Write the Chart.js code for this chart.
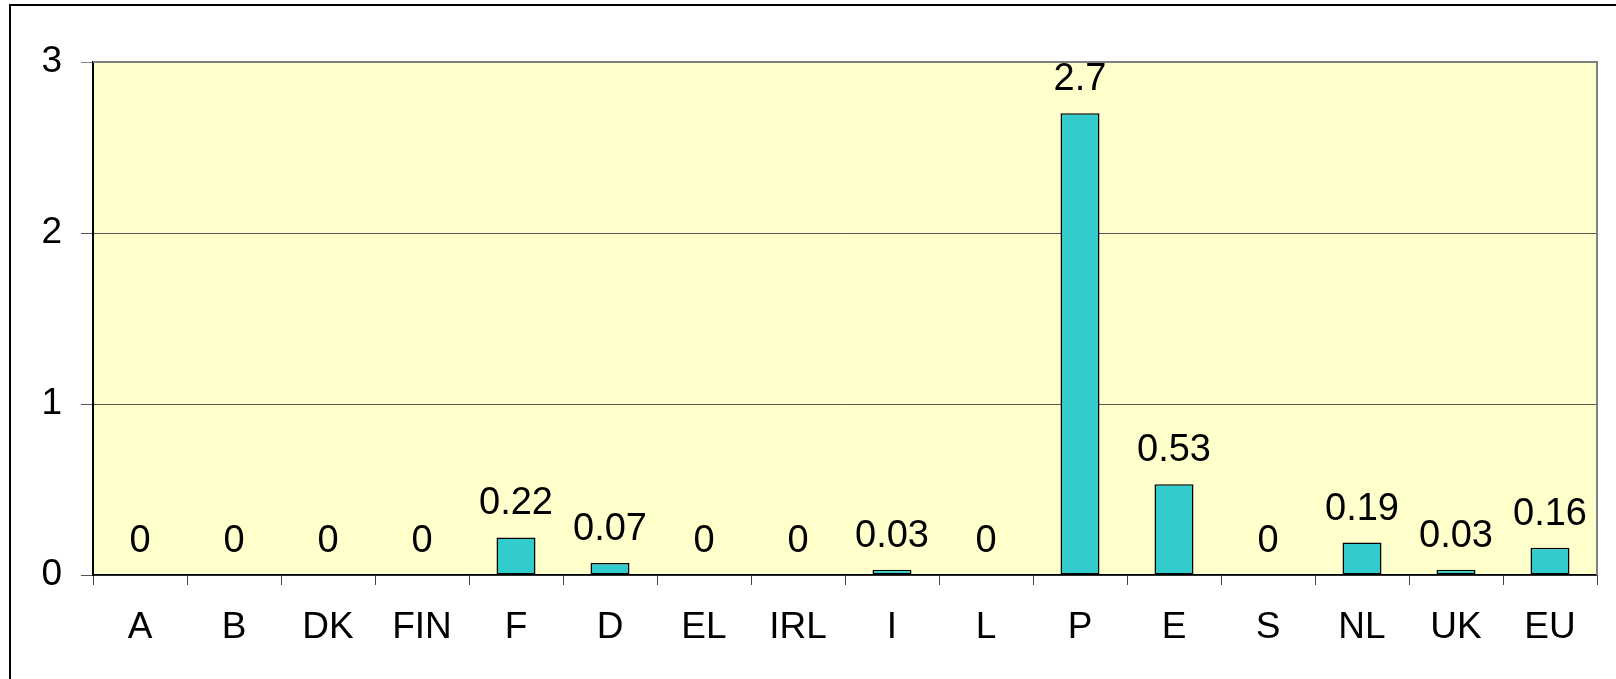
<!DOCTYPE html>
<html>
<head>
<meta charset="utf-8">
<script src="https://cdn.jsdelivr.net/npm/chart.js@4/dist/chart.umd.min.js"></script>
<style>
html,body{margin:0;padding:0;background:#fff;overflow:hidden;}
canvas{display:block;}
</style>
</head>
<body>
<canvas id="c" width="1616" height="679"></canvas>
<script>
const categories = ["A","B","DK","FIN","F","D","EL","IRL","I","L","P","E","S","NL","UK","EU"];
const values = [0,0,0,0,0.22,0.07,0,0,0.03,0,2.7,0.53,0,0.19,0.03,0.16];
const valueLabels = ["0","0","0","0","0.22","0.07","0","0","0.03","0","2.7","0.53","0","0.19","0.03","0.16"];
const yTicks = [0,1,2,3];

const FONT = "'Liberation Sans', Arial, sans-serif";

const framePlugin = {
  id: 'frame',
  beforeDraw(chart) {
    const ctx = chart.ctx, a = chart.chartArea;
    ctx.save();
    ctx.fillStyle = '#fff';
    ctx.fillRect(0, 0, chart.width, chart.height);
    ctx.fillStyle = '#FFFFCC';
    ctx.fillRect(a.left, a.top, a.right - a.left, a.bottom - a.top);
    ctx.strokeStyle = '#000';
    ctx.lineWidth = 2;
    ctx.beginPath();
    ctx.moveTo(10, chart.height + 2);
    ctx.lineTo(10, 5);
    ctx.lineTo(chart.width + 2, 5);
    ctx.stroke();
    ctx.restore();
  },
  afterDraw(chart) {
    const ctx = chart.ctx, a = chart.chartArea;
    ctx.save();
    ctx.strokeStyle = '#808080';
    ctx.lineWidth = 2;
    ctx.beginPath();
    ctx.moveTo(a.left, a.top);
    ctx.lineTo(a.right, a.top);
    ctx.lineTo(a.right, a.bottom);
    ctx.stroke();
    ctx.restore();
  }
};

const labelPlugin = {
  id: 'barLabels',
  afterDatasetsDraw(chart) {
    const ctx = chart.ctx;
    const meta = chart.getDatasetMeta(0);
    ctx.save();
    ctx.font = '38px ' + FONT;
    ctx.fillStyle = '#000';
    ctx.textAlign = 'center';
    ctx.textBaseline = 'alphabetic';
    meta.data.forEach((bar, i) => {
      ctx.fillText(valueLabels[i], bar.x, bar.y - 23);
    });
    ctx.restore();
  }
};

new Chart(document.getElementById('c'), {
  type: 'bar',
  data: {
    labels: categories,
    datasets: [{
      data: values,
      backgroundColor: '#33CCCC',
      borderColor: '#000',
      borderWidth: 1.5,
      borderSkipped: false,
      categoryPercentage: 1,
      barPercentage: 0.415
    }]
  },
  options: {
    responsive: false,
    animation: false,
    devicePixelRatio: 1,
    layout: { padding: { top: 62, right: 19, left: 0, bottom: 0 } },
    plugins: { legend: { display: false }, tooltip: { enabled: false } },
    scales: {
      x: {
        offset: true,
        grid: { offset: true, drawOnChartArea: false, drawTicks: true, tickLength: 10, color: '#444', lineWidth: 1 },
        border: { color: '#000', width: 1.5 },
        ticks: { font: { family: FONT, size: 37 }, color: '#000', padding: 21, maxRotation: 0, autoSkip: false },
        afterFit(s) { s.height = 104; }
      },
      y: {
        min: 0, max: 3,
        afterBuildTicks(s) { s.ticks = yTicks.map(v => ({ value: v })); },
        grid: {
          color: ctx => ctx.tick && ctx.tick.value === 3 ? '#808080' : '#555',
          lineWidth: 1,
          tickLength: 12,
          drawTicks: true
        },
        border: { color: '#000', width: 2 },
        ticks: { font: { family: FONT, size: 37 }, color: '#000', padding: 19, stepSize: 1 },
        afterFit(s) { s.width = 93; }
      }
    }
  },
  plugins: [framePlugin, labelPlugin]
});
</script>
</body>
</html>
